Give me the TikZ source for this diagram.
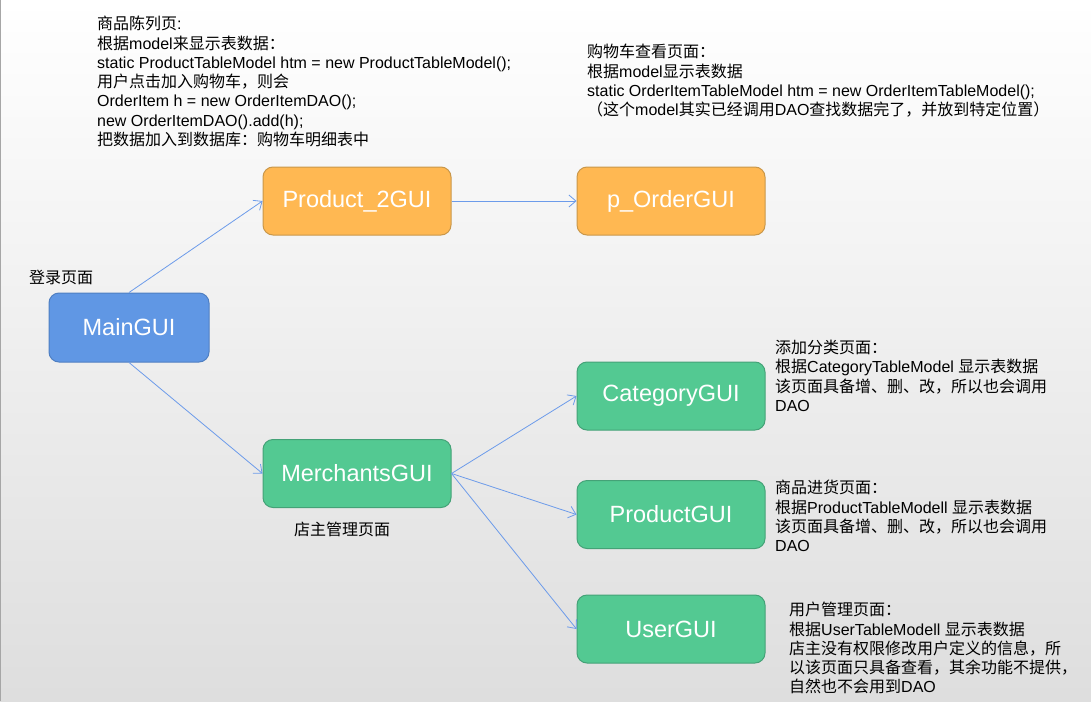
\documentclass[tikz,border=0pt]{standalone}
\usepackage{fontspec}
\setmainfont{Liberation Sans}
\newfontfamily\cjk{Noto Sans CJK SC}
\newcommand\zh[1]{{\cjk #1}}
\usetikzlibrary{arrows.meta}
\definecolor{bluefill}{HTML}{6097E4}
\definecolor{blueline}{HTML}{4F7FC2}
\definecolor{orfill}{HTML}{FFB852}
\definecolor{orline}{HTML}{C9974A}
\definecolor{grfill}{HTML}{53C992}
\definecolor{grline}{HTML}{44A277}
\definecolor{arrowc}{HTML}{6C9BEA}
\tikzset{
  guibox/.style={rounded corners=10pt, line width=1pt, minimum width=188pt, minimum height=68pt,
    text=white, font=\fontsize{23.5}{28}\selectfont, inner sep=0pt},
  bluebox/.style={guibox, fill=bluefill, draw=blueline, minimum width=160pt, minimum height=69pt},
  orbox/.style={guibox, fill=orfill, draw=orline},
  grbox/.style={guibox, fill=grfill, draw=grline},
  note/.style={anchor=north west, align=left, inner sep=0pt, font=\fontsize{16}{19.3}\selectfont},
  conn/.style={draw=arrowc, line width=0.8pt, -{Straight Barb[length=7pt,width=12pt,line width=0.8pt]}}
}
\begin{document}
\begin{tikzpicture}[x=1pt,y=-1pt]
\useasboundingbox (0,0) rectangle (1091,701);
\shade[top color=white, bottom color=black!13] (0,0) rectangle (1091,701);
\fill[black!35] (0,0) rectangle (1.2,701);

\node[bluebox] (main) at (129,327.5) {MainGUI};
\node[orbox] (p2) at (357,201) {Product\_2GUI};
\node[orbox] (po) at (671,201) {p\_OrderGUI};
\node[grbox] (merch) at (357,473.5) {MerchantsGUI};
\node[grbox] (cat) at (671,396) {CategoryGUI};
\node[grbox] (prod) at (671,514.5) {ProductGUI};
\node[grbox] (user) at (671,629) {UserGUI};

\draw[conn] (main.north) -- (p2.west);
\draw[conn] (main.south) -- (merch.west);
\draw[conn] (p2.east) -- (po.west);
\draw[conn] (merch.east) -- (cat.west);
\draw[conn] (merch.east) -- (prod.west);
\draw[conn] (merch.east) -- (user.west);

\node[note] (n1) at (97,16) {\zh{商品陈列页}:\\
\zh{根据}model\zh{来显示表数据：}\\
static ProductTableModel htm = new ProductTableModel();\\
\zh{用户点击加入购物车，则会}\\
OrderItem h = new OrderItemDAO();\\
new OrderItemDAO().add(h);\\
\zh{把数据加入到数据库：购物车明细表中}};

\node[note] (n2) at (587,44) {\zh{购物车查看页面：}\\
\zh{根据}model\zh{显示表数据}\\
static OrderItemTableModel htm = new OrderItemTableModel();\\
\zh{（这个}model\zh{其实已经调用}DAO\zh{查找数据完了，并放到特定位置）}};

\node[note] (nlogin) at (29,270) {\zh{登录页面}};
\node[note] (nmerch) at (294,522) {\zh{店主管理页面}};

\node[note] (ncat) at (775,340) {\zh{添加分类页面：}\\
\zh{根据}CategoryTableModel \zh{显示表数据}\\
\zh{该页面具备增、删、改，所以也会调用}\\
DAO};

\node[note] (nprod) at (775,480) {\zh{商品进货页面：}\\
\zh{根据}ProductTableModell \zh{显示表数据}\\
\zh{该页面具备增、删、改，所以也会调用}\\
DAO};

\node[note] (nuser) at (789,602) {\zh{用户管理页面：}\\
\zh{根据}UserTableModell \zh{显示表数据}\\
\zh{店主没有权限修改用户定义的信息，所}\\
\zh{以该页面只具备查看，其余功能不提供，}\\
\zh{自然也不会用到}DAO};
\end{tikzpicture}
\end{document}
